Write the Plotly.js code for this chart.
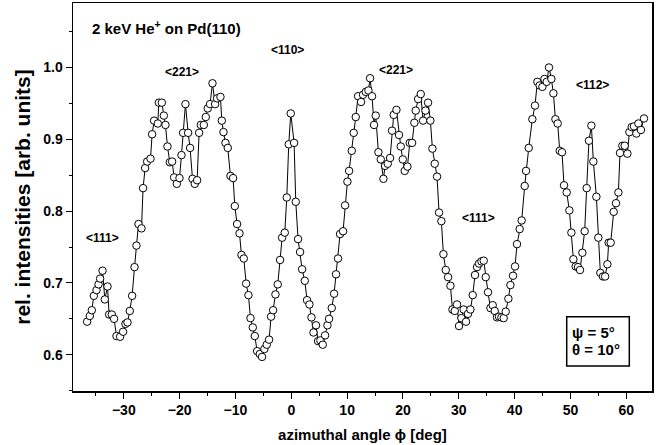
<!DOCTYPE html>
<html>
<head>
<meta charset="utf-8">
<script src="https://cdn.plot.ly/plotly-3.0.1.min.js"></script>
<style>html,body{margin:0;padding:0;background:#fff;}#chart{width:662px;height:445px;}</style>
</head>
<body>
<div id="chart"></div>
<script>
// azimuthal angle phi [deg]
const phi = [
-36.57,-36.09,-35.73,-35.37,-34.89,-34.53,-34.24,-33.81,-33.40,-32.92,-32.63,-32.15,-31.74,-31.31,-30.66,-30.13,-29.70,-29.34,-28.93,-28.51,
-28.08,-27.73,-27.37,-26.83,-26.55,-26.18,-25.82,-25.22,-24.93,-24.57,-23.91,-23.73,-23.19,-22.83,-22.54,-22.18,-21.76,-21.35,-20.99,-20.51,
-20.03,-19.67,-19.38,-18.96,-18.48,-18.13,-17.70,-17.29,-16.87,-16.51,-16.21,-15.67,-15.32,-14.96,-14.55,-14.12,-13.65,-13.29,-12.69,-12.45,
-12.15,-11.79,-11.38,-10.90,-10.43,-10.12,-9.71,-9.28,-8.93,-8.51,-8.09,-7.68,-7.31,-6.90,-6.54,-6.12,-5.65,-5.24,-4.82,-4.40,
-3.98,-3.62,-3.26,-2.84,-2.43,-2.01,-1.65,-1.17,-0.81,-0.46,-0.10,0.50,0.80,1.21,1.57,1.93,2.41,2.82,3.25,3.61,
3.97,4.43,4.79,5.20,5.63,6.05,6.47,6.76,7.24,7.66,8.01,8.37,8.73,9.27,9.63,10.05,10.35,10.83,11.18,11.54,
11.96,12.49,12.85,13.33,13.81,14.11,14.46,14.82,15.12,15.60,16.02,16.50,16.79,17.27,17.69,18.04,18.34,18.83,19.29,19.60,
19.96,20.31,20.80,21.21,21.63,22.04,22.28,22.71,23.18,23.60,24.02,24.49,24.91,25.27,25.69,26.10,26.46,26.88,27.24,27.66,
28.08,28.50,28.86,29.27,29.68,30.04,30.46,30.88,31.29,31.65,32.08,32.49,32.90,33.26,33.62,34.05,34.46,34.82,35.23,35.66,
36.07,36.43,36.84,37.20,37.63,38.04,38.40,38.88,39.24,39.71,40.07,40.42,40.90,41.26,41.80,42.04,42.52,43.17,43.64,44.07,
44.48,44.97,45.33,45.74,46.15,46.58,46.94,47.30,47.71,48.07,48.48,48.84,49.32,49.80,50.16,50.52,50.93,51.35,51.71,52.13,
52.54,52.90,53.31,53.74,54.10,54.64,54.99,55.35,55.82,56.20,56.61,56.84,57.20,57.74,58.15,58.58,58.87,59.29,59.71,60.19,
60.55,60.96,61.37,61.80,62.16,62.62,63.16
];
// relative intensities [arb. units]
const intensity = [
0.646,0.654,0.662,0.682,0.690,0.698,0.706,0.717,0.677,0.695,0.656,0.656,0.650,0.626,0.625,0.632,0.643,0.645,0.661,0.682,
0.722,0.752,0.782,0.776,0.832,0.860,0.869,0.873,0.907,0.926,0.922,0.951,0.951,0.933,0.920,0.890,0.868,0.869,0.847,0.838,
0.846,0.878,0.909,0.949,0.909,0.888,0.845,0.838,0.843,0.909,0.920,0.920,0.931,0.943,0.949,0.978,0.949,0.957,0.959,0.926,
0.910,0.895,0.888,0.849,0.846,0.807,0.782,0.769,0.739,0.734,0.699,0.683,0.651,0.638,0.626,0.605,0.601,0.597,0.608,0.614,
0.621,0.653,0.662,0.684,0.698,0.732,0.763,0.770,0.819,0.893,0.936,0.895,0.813,0.761,0.743,0.719,0.703,0.676,0.670,0.652,
0.631,0.641,0.619,0.620,0.614,0.627,0.641,0.650,0.665,0.685,0.712,0.734,0.768,0.772,0.808,0.841,0.856,0.884,0.909,0.931,
0.960,0.952,0.962,0.966,0.968,0.985,0.960,0.920,0.933,0.882,0.872,0.845,0.863,0.866,0.874,0.912,0.934,0.941,0.906,0.890,
0.872,0.856,0.862,0.895,0.895,0.923,0.940,0.956,0.963,0.926,0.940,0.951,0.926,0.887,0.866,0.848,0.798,0.786,0.740,0.718,
0.708,0.696,0.663,0.661,0.670,0.640,0.651,0.663,0.646,0.657,0.663,0.683,0.711,0.722,0.727,0.730,0.731,0.708,0.687,0.665,
0.669,0.661,0.652,0.653,0.652,0.651,0.660,0.678,0.697,0.710,0.723,0.754,0.775,0.787,0.835,0.856,0.888,0.928,0.947,0.980,
0.975,0.973,0.984,0.980,1.000,0.984,0.964,0.928,0.922,0.884,0.882,0.836,0.826,0.801,0.770,0.733,0.723,0.722,0.718,0.742,
0.772,0.832,0.898,0.919,0.869,0.820,0.763,0.714,0.709,0.709,0.726,0.756,0.756,0.799,0.811,0.826,0.881,0.891,0.891,0.880,
0.910,0.917,0.918,0.908,0.922,0.913,0.929
];
// direction labels
const dirLabels = ["<111>","<221>","<110>","<221>","<111>","<112>"];
const dirX = [-33.85,-19.53,-0.73,18.67,33.56,53.89];
const dirY = [0.763,0.994,1.024,0.997,0.791,0.976];

const FONT = "Liberation Sans, Arial, Helvetica, sans-serif";
const esc = s => s.replace(/</g,"&lt;").replace(/>/g,"&gt;");

const annotations = dirLabels.map((t,i)=>({
  x: dirX[i], y: dirY[i], xref:'x', yref:'y', text: esc(t), showarrow:false,
  font:{family:FONT,size:12,color:'#000',weight:'bold'}, xanchor:'center', yanchor:'middle'
}));
annotations.push({
  x:0.029, y:0.938, xref:'paper', yref:'paper', xanchor:'left', yanchor:'middle', showarrow:false,
  text:'2 keV He<sup>+</sup> on Pd(110)', font:{family:FONT,size:15,color:'#000',weight:'bold'}
});
annotations.push({
  x:0.858, y:0.152, xref:'paper', yref:'paper', xanchor:'left', yanchor:'middle', showarrow:false,
  text:'ψ = 5°', font:{family:FONT,size:15,color:'#000',weight:'bold'}
});
annotations.push({
  x:0.858, y:0.106, xref:'paper', yref:'paper', xanchor:'left', yanchor:'middle', showarrow:false,
  text:'θ = 10°', font:{family:FONT,size:15,color:'#000',weight:'bold'}
});

const trace = {
  x: phi, y: intensity, type:'scatter', mode:'lines+markers',
  line:{color:'#000',width:1},
  marker:{symbol:'circle',size:7.5,color:'#fff',line:{color:'#000',width:1}},
  hoverinfo:'skip'
};

const axisCommon = {
  showline:true, mirror:true, linecolor:'#000', linewidth:1.5,
  ticks:'outside', ticklen:6, tickwidth:1, tickcolor:'#000',
  showgrid:false, zeroline:false,
  tickfont:{family:FONT,size:14,color:'#000',weight:'bold'}
};

const layout = {
  width:662, height:445,
  margin:{l:73,r:10,t:3,b:54},
  paper_bgcolor:'#fff', plot_bgcolor:'#fff',
  showlegend:false,
  xaxis: Object.assign({}, axisCommon, {
    range:[-39.1,64.6], dtick:10, tick0:0,
    minor:{dtick:5, ticklen:3, ticks:'outside', tickcolor:'#000', tickwidth:1},
    title:{text:'azimuthal angle ϕ [deg]', font:{family:FONT,size:15,color:'#000',weight:'bold'}, standoff:12}
  }),
  yaxis: Object.assign({}, axisCommon, {
    range:[0.5495,1.0898], dtick:0.1, tick0:0, tickformat:'.1f',
    minor:{dtick:0.05, ticklen:3, ticks:'outside', tickcolor:'#000', tickwidth:1},
    title:{text:'rel. intensities [arb. units]', font:{family:FONT,size:21,color:'#000',weight:'bold'}, standoff:7}
  }),
  annotations: annotations,
  shapes:[{type:'rect', xref:'paper', yref:'paper', x0:0.8527, x1:0.9608, y0:0.0644, y1:0.1915,
    line:{color:'#000',width:1.5}, fillcolor:'rgba(0,0,0,0)'}]
};

Plotly.newPlot('chart',[trace],layout,{staticPlot:true,displayModeBar:false});
</script>
</body>
</html>
